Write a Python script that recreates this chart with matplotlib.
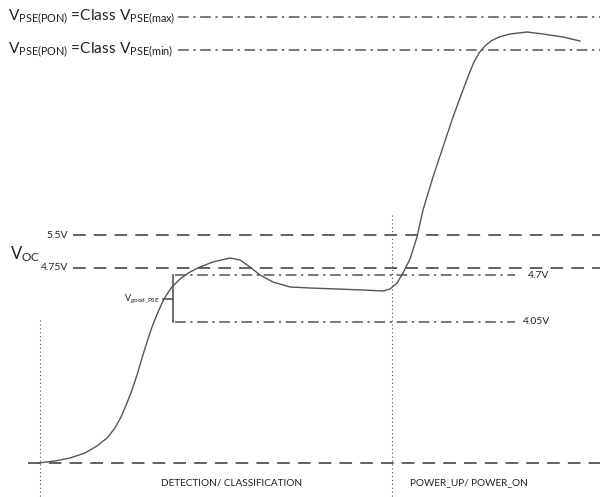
# -*- coding: utf-8 -*-
# pse_startup.py  - PSE output voltage during detection / power up

import matplotlib
matplotlib.use("Agg")
import matplotlib.pyplot as plt

plt.rcParams['font.family'] = ['Lato', 'DejaVu Sans']
plt.rcParams['mathtext.fontset'] = 'custom'
plt.rcParams['mathtext.rm'] = 'Lato'
plt.rcParams['mathtext.it'] = 'Lato:italic'

# curve (pixel space, y down)
curve_x = [38, 55, 70, 85, 97, 107, 115, 121, 127, 132, 137, 142, 147, 152, 158,
           164, 171, 180, 190, 200, 213, 230, 240, 250, 260, 273, 290, 310, 337, 363,
           383, 390, 397, 403, 410, 417, 423, 433, 443, 453, 463, 469, 474, 479, 485,
           491, 499, 510, 527, 543, 563, 580]
curve_y = [463, 461, 458, 453, 446, 438, 428, 417, 403, 390, 375, 358, 342, 327, 312,
           299, 288, 279, 272, 267, 262, 258, 260, 267, 275, 282, 287, 288, 289, 290,
           291, 289, 283, 273, 259, 237, 210, 177, 147, 117, 90, 74, 62, 53, 46,
           41, 37, 34, 32, 34, 37, 41]

# horizontal reference levels: y, x start, x end, style
levels_y = [17, 50, 235, 268, 275, 322, 463]
levels_x0 = [178, 178, 73, 73, 175, 175, 28]
levels_x1 = [600, 600, 600, 600, 515, 515, 600]
levels_style = ['dashdot', 'dashdot', 'dash', 'dash', 'dashdot', 'dashdot', 'dash']

level_labels = ['5.5V', '4.75V']
vgood_labels = ['4.7V', '4.05V']
phase_labels = ['DETECTION/ CLASSIFICATION', 'POWER_UP/ POWER_ON']

GREY = '#555555'
TXT = '#222222'

fig = plt.figure(figsize=(6, 4.97), dpi=100)
ax = fig.add_axes([0, 0, 1, 1])
ax.set_xlim(0, 600)
ax.set_ylim(497, 0)
ax.axis('off')

for y, x0, x1, st in zip(levels_y, levels_x0, levels_x1, levels_style):
    if st == 'dash':
        ax.plot([x0, x1], [y, y], color=GREY, lw=1.3, dashes=(7, 4.5))
    else:
        ax.plot([x0, x1], [y, y], color=GREY, lw=1.1, dashes=(7, 3, 1.5, 3))

# phase separators
ax.plot([40, 40], [320, 497], color=GREY, lw=0.8, ls=(0, (1, 2.5)))
ax.plot([392, 392], [215, 497], color=GREY, lw=0.8, ls=(0, (1, 2.5)))

# V_good bracket
ax.plot([173, 173], [275, 322], color=GREY, lw=1.2)
ax.plot([163, 173], [299, 299], color=GREY, lw=1.2)

ax.plot(curve_x, curve_y, color=GREY, lw=1.0, solid_joinstyle='round')

# labels
ax.text(8, 17, r'V$_{\mathrm{PSE(PON)}}$ =Class V$_{\mathrm{PSE(max)}}$',
        fontsize=11.2, color=TXT, va='center', ha='left')
ax.text(8, 50, r'V$_{\mathrm{PSE(PON)}}$ =Class V$_{\mathrm{PSE(min)}}$',
        fontsize=11.2, color=TXT, va='center', ha='left')
ax.text(10, 254, r'V$_{\mathrm{OC}}$', fontsize=12, color=TXT, va='center', ha='left')
ax.text(68, 235, level_labels[0], fontsize=7.5, color=TXT, va='center', ha='right')
ax.text(68, 268, level_labels[1], fontsize=7.5, color=TXT, va='center', ha='right')
ax.text(528, 275, vgood_labels[0], fontsize=7.5, color=TXT, va='center', ha='left')
ax.text(523, 322, vgood_labels[1], fontsize=7.5, color=TXT, va='center', ha='left')
ax.text(160, 299, r'V$_{\mathrm{good\_PSE}}$', fontsize=6.5, color=TXT,
        va='center', ha='right')
ax.text(232, 483, phase_labels[0], fontsize=7.2, color=TXT, va='center', ha='center')
ax.text(469, 483, phase_labels[1], fontsize=7.2, color=TXT, va='center', ha='center')

fig.savefig('out.png', dpi=100, facecolor='white')
